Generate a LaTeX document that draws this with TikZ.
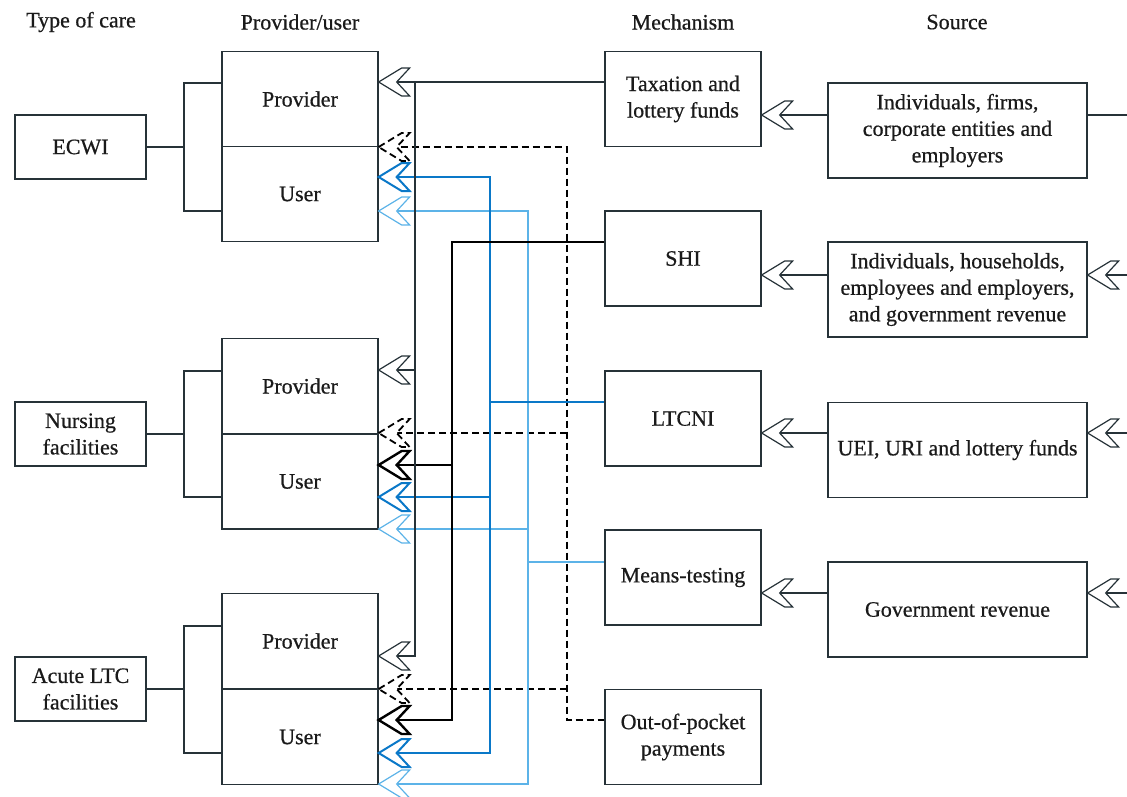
\documentclass[tikz,border=0pt]{standalone}
\usepackage{fontspec}
\setmainfont{Liberation Serif}[AutoFakeBold=0.6]
\definecolor{linec}{HTML}{263238}
\definecolor{blueA}{HTML}{0A78C8}
\definecolor{blueB}{HTML}{5CB3E8}
\definecolor{txt}{HTML}{1A1A1A}
\begin{document}
\begin{tikzpicture}[x=1pt,y=-1pt,
  box/.style={draw=linec, line width=1.3pt, inner sep=0pt, align=center,
    font=\fontsize{22}{26.5}\selectfont\bfseries, text=txt},
  lbox/.style={box, minimum width=131pt, minimum height=64pt},
  pbox/.style={box, minimum width=156pt, minimum height=95pt},
  sbox/.style={box, minimum width=259pt, minimum height=95pt},
  head/.style={font=\fontsize{22}{26.5}\selectfont\bfseries, text=txt, inner sep=0pt},
  glin/.style={draw=linec, line width=1.2pt},
  klin/.style={draw=black, line width=2.4pt},
  blin/.style={draw=blueA, line width=2pt},
  llin/.style={draw=blueB, line width=1.2pt},
  dlin/.style={draw=black, line width=1.8pt, dash pattern=on 7pt off 4pt},
  pics/chev/.style={code={\draw[fill=white, line join=miter, #1]
     (0,0) -- (23,-14) -- (31,-14) -- (18,0) -- (31,14) -- (23,14) -- cycle;}}
]
\useasboundingbox (0,0) rectangle (1127,796);

% headers
\node[head] (h1) at (81,22) {Type of care};
\node[head] (h2) at (300,22) {Provider/user};
\node[head] (h3) at (683,22) {Mechanism};
\node[head] (h4) at (957,22) {Source};

% type of care
\node[lbox] (ecwi) at (80.5,147) {ECWI};
\node[lbox] (nurs) at (80.5,434) {Nursing\\facilities};
\node[lbox] (acute) at (80.5,689) {Acute LTC\\facilities};

% provider / user
\node[pbox] (p1) at (300,99) {Provider};
\node[pbox] (u1) at (300,194) {User};
\node[pbox] (p2) at (300,386) {Provider};
\node[pbox] (u2) at (300,481.5) {User};
\node[pbox] (p3) at (300,641) {Provider};
\node[pbox] (u3) at (300,737) {User};

% mechanism
\node[pbox] (tax) at (683,99) {Taxation and\\lottery funds};
\node[pbox] (shi) at (683,258.5) {SHI};
\node[pbox] (ltc) at (683,418.5) {LTCNI};
\node[pbox] (mt) at (683,577.5) {Means-testing};
\node[pbox] (oop) at (683,737) {Out-of-pocket\\payments};

% source
\node[sbox] (s1) at (957.5,130.5) {Individuals, firms,\\corporate entities and\\employers};
\node[sbox] (s2) at (957.5,289.5) {Individuals, households,\\employees and employers,\\and government revenue};
\node[sbox] (s3) at (957.5,450) {UEI, URI and lottery funds};
\node[sbox] (s4) at (957.5,609.5) {Government revenue};

% brackets
\coordinate (b1t) at (184,83);  \coordinate (b1b) at (184,211);
\coordinate (b2t) at (184,371); \coordinate (b2b) at (184,497);
\coordinate (b3t) at (184,626); \coordinate (b3b) at (184,753);
\draw[glin] (ecwi.east) -- (ecwi.east -| b1t);
\draw[glin] (p1.west |- b1t) -- (b1t) -- (b1b) -- (u1.west |- b1b);
\draw[glin] (nurs.east) -- (nurs.east -| b2t);
\draw[glin] (p2.west |- b2t) -- (b2t) -- (b2b) -- (u2.west |- b2b);
\draw[glin] (acute.east) -- (acute.east -| b3t);
\draw[glin] (p3.west |- b3t) -- (b3t) -- (b3b) -- (u3.west |- b3b);

% trunk coordinates
\coordinate (gT) at (415,82);  \coordinate (gM) at (415,370); \coordinate (gB) at (415,656);
\coordinate (kT) at (452,242); \coordinate (kM) at (452,465); \coordinate (kB) at (452,720);
\coordinate (bT) at (490,177); \coordinate (bL) at (490,402); \coordinate (bM) at (490,497); \coordinate (bB) at (490,753);
\coordinate (lT) at (528,211); \coordinate (lM) at (528,529); \coordinate (lL) at (528,562); \coordinate (lB) at (528,784);
\coordinate (dT) at (567,147); \coordinate (dM) at (567,433); \coordinate (dN) at (567,689); \coordinate (dB) at (567,720);

% out-of-pocket (dashed)
\draw[dlin] (u1.east |- dT) -- (dT) -- (dB) -- (oop.west |- dB);
\draw[dlin] (dM) -- (u2.east |- dM);
\draw[dlin] (dN) -- (u3.east |- dN);
% means-testing (light blue)
\draw[llin] (u1.east |- lT) -- (lT) -- (lB) -- (u3.east |- lB);
\draw[llin] (lL) -- (mt.west |- lL);
\draw[llin] (lM) -- (u2.east |- lM);
% LTCNI (blue)
\draw[blin] (u1.east |- bT) -- (bT) -- (bB) -- (u3.east |- bB);
\draw[blin] (bL) -- (ltc.west |- bL);
\draw[blin] (bM) -- (u2.east |- bM);
% SHI (black)
\draw[klin] (shi.west |- kT) -- (kT) -- (kB) -- (u3.east |- kB);
\draw[klin] (kM) -- (u2.east |- kM);
% taxation (gray)
\draw[glin] (tax.west |- gT) -- (p1.east |- gT);
\draw[glin] (gT) -- (gB) -- (p3.east |- gB);
\draw[glin] (gM) -- (p2.east |- gM);

% chevrons at provider/user
\pic at (p1.east |- gT) {chev=glin};
\pic at (p2.east |- gM) {chev=glin};
\pic at (p3.east |- gB) {chev=glin};
\pic at (u1.east |- dT) {chev=dlin};
\pic at (u2.east |- dM) {chev=dlin};
\pic at (u3.east |- dN) {chev=dlin};
\pic at (u2.east |- kM) {chev=klin};
\pic at (u3.east |- kB) {chev=klin};
\pic at (u1.east |- bT) {chev=blin};
\pic at (u2.east |- bM) {chev=blin};
\pic at (u3.east |- bB) {chev=blin};
\pic at (u1.east |- lT) {chev=llin};
\pic at (u2.east |- lM) {chev=llin};
\pic at (u3.east |- lB) {chev=llin};

% source -> mechanism
\coordinate (r1) at (0,115); \coordinate (r2) at (0,275);
\coordinate (r3) at (0,433); \coordinate (r4) at (0,593);
\draw[glin] (s1.west |- r1) -- (tax.east |- r1);
\draw[glin] (s2.west |- r2) -- (shi.east |- r2);
\draw[glin] (s3.west |- r3) -- (ltc.east |- r3);
\draw[glin] (s4.west |- r4) -- (mt.east |- r4);
\pic at (tax.east |- r1) {chev=glin};
\pic at (shi.east |- r2) {chev=glin};
\pic at (ltc.east |- r3) {chev=glin};
\pic at (mt.east |- r4) {chev=glin};

% right edge
\coordinate (e1) at (1127,115); \coordinate (e2) at (1127,275);
\coordinate (e3) at (1127,433); \coordinate (e4) at (1127,593);
\draw[glin] (s1.east |- e1) -- (e1);
\draw[glin] (e2) -- (s2.east |- e2);
\draw[glin] (e3) -- (s3.east |- e3);
\draw[glin] (e4) -- (s4.east |- e4);
\pic at (s2.east |- e2) {chev=glin};
\pic at (s3.east |- e3) {chev=glin};
\pic at (s4.east |- e4) {chev=glin};
\end{tikzpicture}
\end{document}
